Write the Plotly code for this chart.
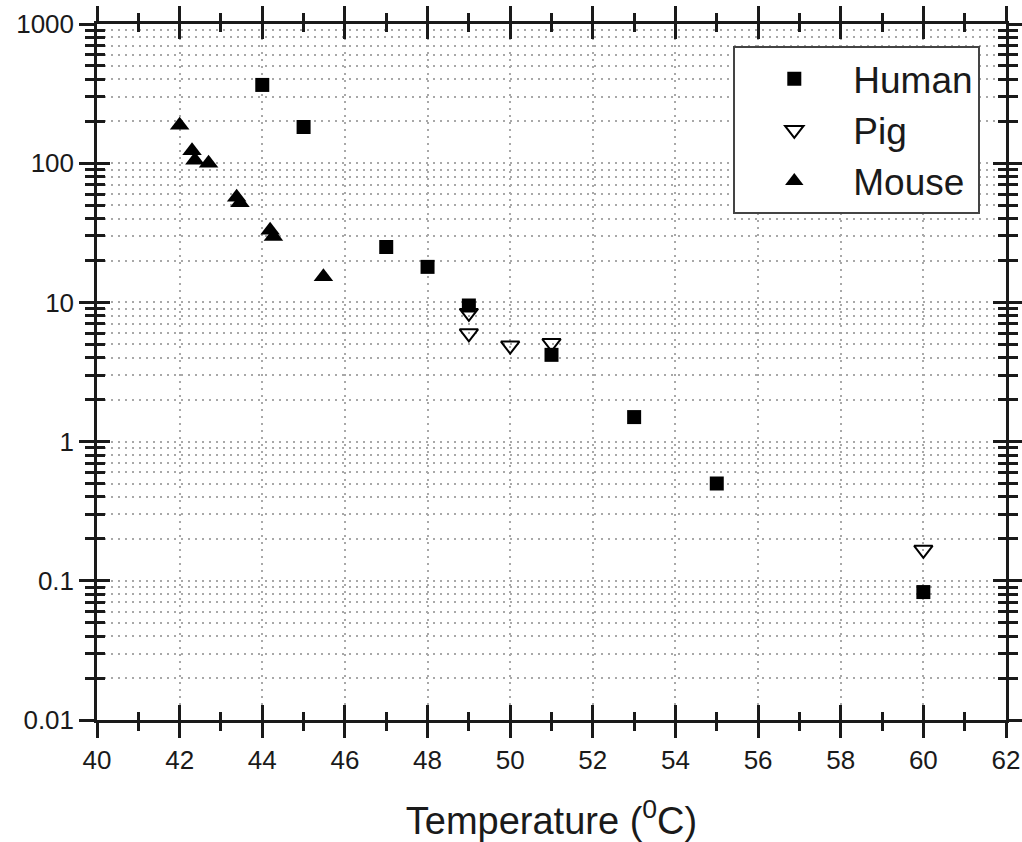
import plotly.graph_objects as go

# ---- data ----
human_t = [44, 45, 47, 48, 49, 51, 53, 55, 60]
human_v = [365, 182, 25, 18, 9.5, 4.2, 1.5, 0.5, 0.083]

pig_t = [49, 49, 50, 51, 60]
pig_v = [8.4, 6.0, 4.9, 5.1, 0.167]

mouse_t = [42.0, 42.3, 42.37, 42.7, 43.38, 43.46, 44.19, 44.27, 45.48]
mouse_v = [187, 123, 105, 100, 57, 52, 33, 29.7, 15.3]

x_range = [40, 62]
y_range_log = [-2, 3]
x_title = "Temperature (<sup>0</sup>C)"

FONT = "Liberation Sans, Arial, sans-serif"
INK = "#1a1a1a"
GRID = "#a8a8a8"
GDASH = "2px,5px"

fig = go.Figure()
fig.add_trace(go.Scatter(x=human_t, y=human_v, mode="markers", name="Human",
                         marker=dict(symbol="square", size=14, color="black")))
fig.add_trace(go.Scatter(x=pig_t, y=pig_v, mode="markers", name="Pig",
                         marker=dict(symbol="triangle-down-open", size=16, color="black",
                                     line=dict(width=2, color=INK))))
fig.add_trace(go.Scatter(x=mouse_t, y=mouse_v, mode="markers", name="Mouse",
                         marker=dict(symbol="triangle-up", size=17, color="black")))
# empty trace to create the overlay subplot used for inward ticks
fig.add_trace(go.Scatter(x=[], y=[], xaxis="x2", yaxis="y2", showlegend=False,
                         hoverinfo="skip"))

axis_common = dict(showline=True, linecolor=INK, linewidth=2.5, tickcolor=INK,
                   tickwidth=2.5, mirror="allticks", zeroline=False, automargin=False)

fig.update_layout(
    width=1022, height=842,
    margin=dict(l=97, r=16, t=24, b=122),
    paper_bgcolor="white", plot_bgcolor="white",
    font=dict(family=FONT, color=INK, size=26),
    xaxis=dict(range=x_range, dtick=2, tick0=40, ticks="outside", ticklen=15,
               showgrid=True, gridcolor=GRID, gridwidth=1.5, griddash=GDASH,
               minor=dict(dtick=1, ticks="outside", ticklen=8, tickwidth=2.5,
                          tickcolor=INK, showgrid=False),
               title=dict(text=x_title, font=dict(size=38), standoff=34),
               tickfont=dict(size=26), **axis_common),
    yaxis=dict(type="log", range=y_range_log, dtick=1, ticks="outside", ticklen=15,
               exponentformat="none",
               showgrid=True, gridcolor=GRID, gridwidth=1.5, griddash=GDASH,
               minor=dict(dtick="D1", ticks="outside", ticklen=9, tickwidth=2.5,
                          tickcolor=INK, showgrid=True, gridcolor=GRID,
                          gridwidth=1.5, griddash=GDASH),
               tickfont=dict(size=26), **axis_common),
    xaxis2=dict(range=x_range, dtick=2, tick0=40, overlaying="x", anchor="y2",
                ticks="inside", ticklen=15, showticklabels=False, showgrid=False,
                minor=dict(dtick=1, ticks="inside", ticklen=8, tickwidth=2.5,
                           tickcolor=INK, showgrid=False),
                **axis_common),
    yaxis2=dict(type="log", range=y_range_log, dtick=1, overlaying="y", anchor="x2",
                ticks="inside", ticklen=13, showticklabels=False, showgrid=False,
                minor=dict(dtick="D1", ticks="inside", ticklen=8, tickwidth=2.5,
                           tickcolor=INK, showgrid=False),
                **axis_common),
    legend=dict(x=0.700, y=0.968, xanchor="left", yanchor="top",
                bgcolor="white", bordercolor="#444", borderwidth=2,
                font=dict(size=37, family=FONT, color=INK),
                itemwidth=108, tracegroupgap=0),
    showlegend=True,
)

fig.write_html("out.html")
